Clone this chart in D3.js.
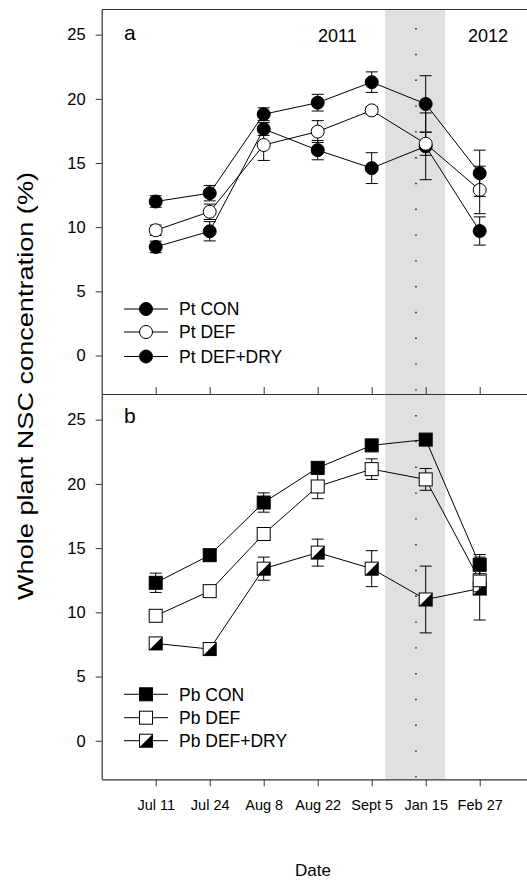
<!DOCTYPE html>
<html lang="en">
<head>
    <meta charset="UTF-8">
    <title>Whole plant NSC</title>
    <script src="https://d3js.org/d3.v7.min.js"></script>
    <style>
        body { margin: 0; background: #fff; }
        text { font-family: "Liberation Sans", Arial, sans-serif; fill: #000; }
    </style>
</head>
<body>
<script type="text/javascript">
    var dates = ["Jul 11", "Jul 24", "Aug 8", "Aug 22", "Sept 5", "Jan 15", "Feb 27"];
    var yTicks = [0, 5, 10, 15, 20, 25];

    // panel a (Pt)
    var ptCon = [12.0, 12.65, 18.8, 19.7, 21.3, 19.6, 14.2];
    var ptConErr = [0.45, 0.6, 0.5, 0.65, 0.8, 2.2, 1.8];
    var ptDef = [9.76, 11.2, 16.4, 17.45, 19.1, 16.5, 12.9];
    var ptDefErr = [0.4, 0.6, 1.2, 0.85, 0.3, 0.9, 1.85];
    var ptDry = [8.46, 9.68, 17.65, 16.0, 14.6, 16.3, 9.7];
    var ptDryErr = [0.45, 0.75, 0.5, 0.75, 1.2, 2.6, 1.1];

    // panel b (Pb)
    var pbCon = [12.3, 14.45, 18.55, 21.25, 23.0, 23.45, 13.7];
    var pbConErr = [0.75, 0.25, 0.75, 0.4, 0.3, 0.3, 0.8];
    var pbDef = [9.73, 11.65, 16.1, 19.8, 21.15, 20.35, 12.5];
    var pbDefErr = [0.3, 0.4, 0.3, 0.95, 0.8, 0.85, 0.9];
    var pbDry = [7.58, 7.14, 13.4, 14.65, 13.4, 11.0, 11.85];
    var pbDryErr = [0.3, 0.2, 0.9, 1.05, 1.4, 2.6, 2.45];

    var width = 527, height = 888;
    var svg = d3.select("body").append("svg")
        .attr("width", width)
        .attr("height", height);

    var xScale = d3.scaleLinear().domain([-1, 7]).range([101.7, 533.7]);
    var yTop = d3.scaleLinear().domain([-3, 27]).range([394, 9]);
    var yBot = d3.scaleLinear().domain([-3, 27]).range([779.3, 394]);

    // shaded winter gap + dotted line
    svg.append("rect")
        .attr("x", xScale(4.25))
        .attr("y", 9)
        .attr("width", xScale(5.36) - xScale(4.25))
        .attr("height", 779.3 - 9)
        .attr("fill", "#e0e0e0");

    svg.append("line")
        .attr("x1", xScale(4.82)).attr("x2", xScale(4.82))
        .attr("y1", 28).attr("y2", 779)
        .attr("stroke", "#000")
        .attr("stroke-width", 1.4)
        .attr("stroke-dasharray", "1.4,24.4");

    var circleMarker = function (g, fill) {
        g.append("circle").attr("r", 6.5).attr("fill", fill)
            .attr("stroke", "#000").attr("stroke-width", 1);
    };
    var squareMarker = function (g, kind) {
        g.append("rect").attr("x", -6.5).attr("y", -6.5)
            .attr("width", 13).attr("height", 13)
            .attr("fill", kind === "fill" ? "#000" : "#fff")
            .attr("stroke", "#000").attr("stroke-width", 1);
        if (kind === "half") {
            g.append("path").attr("d", "M-6.5,6.5L6.5,-6.5L6.5,6.5Z").attr("fill", "#000");
        }
    };

    var drawSeries = function (vals, errs, yScale, marker) {
        var g = svg.append("g");
        var line = d3.line()
            .x(function (d, i) { return xScale(i); })
            .y(function (d) { return yScale(d); });
        g.append("path").datum(vals)
            .attr("d", line)
            .attr("fill", "none")
            .attr("stroke", "#000")
            .attr("stroke-width", 1);
        vals.forEach(function (v, i) {
            var x = xScale(i);
            var eb = g.append("g").attr("stroke", "#000").attr("stroke-width", 1);
            eb.append("line").attr("x1", x).attr("x2", x)
                .attr("y1", yScale(v - errs[i])).attr("y2", yScale(v + errs[i]));
            [v - errs[i], v + errs[i]].forEach(function (e) {
                eb.append("line").attr("x1", x - 6).attr("x2", x + 6)
                    .attr("y1", yScale(e)).attr("y2", yScale(e));
            });
        });
        vals.forEach(function (v, i) {
            var m = g.append("g").attr("transform", "translate(" + xScale(i) + "," + yScale(v) + ")");
            marker(m);
        });
    };

    drawSeries(ptDry, ptDryErr, yTop, function (m) { circleMarker(m, "#000"); });
    drawSeries(ptDef, ptDefErr, yTop, function (m) { circleMarker(m, "#fff"); });
    drawSeries(ptCon, ptConErr, yTop, function (m) { circleMarker(m, "#000"); });

    drawSeries(pbDry, pbDryErr, yBot, function (m) { squareMarker(m, "half"); });
    drawSeries(pbDef, pbDefErr, yBot, function (m) { squareMarker(m, "open"); });
    drawSeries(pbCon, pbConErr, yBot, function (m) { squareMarker(m, "fill"); });

    // axes
    var styleAxis = function (g) {
        g.selectAll("path.domain").attr("stroke", "#333").attr("stroke-width", 1.2);
        g.selectAll(".tick line").attr("stroke", "#333");
        g.selectAll("text").attr("font-size", 16.5).attr("font-family", "Liberation Sans, Arial, sans-serif");
    };

    svg.append("g").attr("transform", "translate(" + xScale(-1) + ",0)")
        .call(d3.axisLeft(yTop).tickValues(yTicks).tickSize(6).tickPadding(10).tickSizeOuter(0))
        .call(styleAxis);
    svg.append("g").attr("transform", "translate(" + xScale(-1) + ",0)")
        .call(d3.axisLeft(yBot).tickValues(yTicks).tickSize(6).tickPadding(10).tickSizeOuter(0))
        .call(styleAxis);

    // top frame line and divider with inward ticks
    svg.append("g").attr("transform", "translate(0,9)")
        .call(d3.axisTop(xScale).tickValues([]).tickSizeOuter(0))
        .call(styleAxis);
    svg.append("g").attr("transform", "translate(0,394)")
        .call(d3.axisTop(xScale).tickValues(d3.range(dates.length)).tickSize(7).tickFormat("").tickSizeOuter(0))
        .call(styleAxis);
    svg.append("g").attr("transform", "translate(0,779.3)")
        .call(d3.axisBottom(xScale).tickValues(d3.range(dates.length)).tickSize(7).tickPadding(10)
            .tickFormat(function (i) { return dates[i]; }).tickSizeOuter(0))
        .call(styleAxis)
        .selectAll("text").attr("font-size", 14.5).attr("dy", "0.71em").attr("y", 20);

    // panel letters and years
    svg.append("text").attr("x", 124).attr("y", 40).attr("font-size", 21).text("a");
    svg.append("text").attr("x", 124).attr("y", 423).attr("font-size", 21).text("b");
    svg.append("text").attr("x", 318).attr("y", 41.7).attr("font-size", 18).text("2011");
    svg.append("text").attr("x", 468).attr("y", 41.7).attr("font-size", 18).text("2012");

    // legends
    var legend = function (labels, ys, markers) {
        labels.forEach(function (lab, i) {
            var y = ys[i];
            svg.append("line").attr("x1", 124).attr("x2", 168)
                .attr("y1", y).attr("y2", y).attr("stroke", "#000");
            var m = svg.append("g").attr("transform", "translate(146," + y + ")");
            markers[i](m);
            svg.append("text").attr("x", 179).attr("y", y + 6.3)
                .attr("font-size", 17.5).text(lab);
        });
    };
    legend(["Pt CON", "Pt DEF", "Pt DEF+DRY"], [309, 332, 356.5], [
        function (m) { circleMarker(m, "#000"); },
        function (m) { circleMarker(m, "#fff"); },
        function (m) { circleMarker(m, "#000"); }
    ]);
    legend(["Pb CON", "Pb DEF", "Pb DEF+DRY"], [694.3, 717.7, 740.7], [
        function (m) { squareMarker(m, "fill"); },
        function (m) { squareMarker(m, "open"); },
        function (m) { squareMarker(m, "half"); }
    ]);

    // axis titles
    svg.append("text")
        .attr("transform", "translate(33,386) rotate(-90)")
        .attr("text-anchor", "middle")
        .attr("font-size", 22)
        .attr("textLength", 428)
        .attr("lengthAdjust", "spacingAndGlyphs")
        .text("Whole plant NSC concentration (%)");
    svg.append("text")
        .attr("x", 313).attr("y", 876)
        .attr("text-anchor", "middle")
        .attr("font-size", 17)
        .text("Date");
</script>
</body>
</html>
